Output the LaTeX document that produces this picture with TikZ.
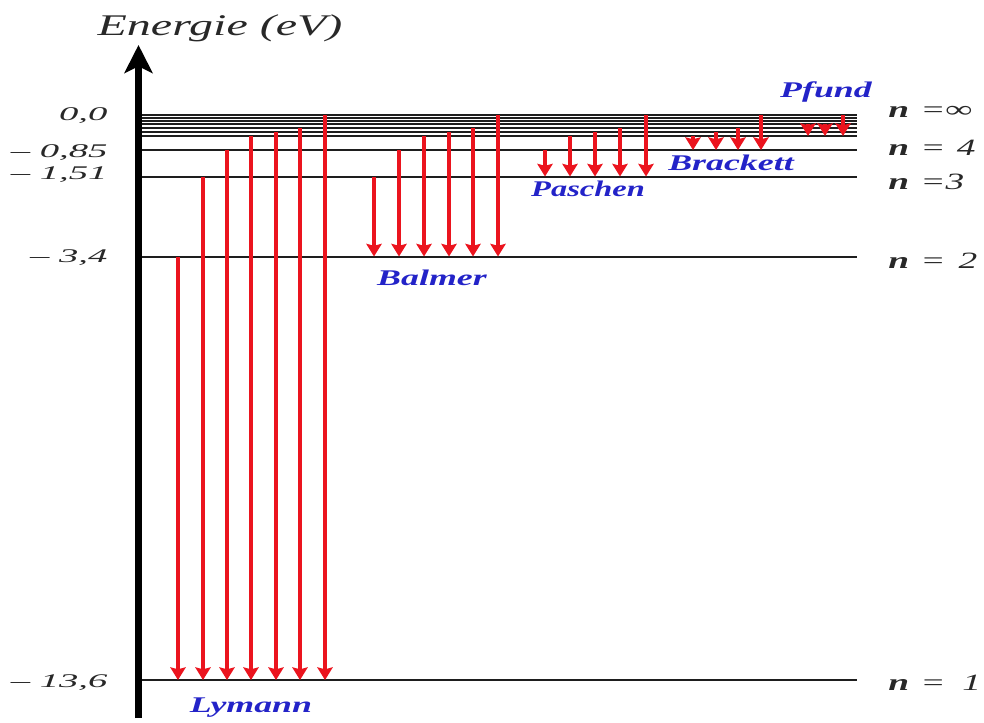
\documentclass[tikz,border=0pt]{standalone}
\usepackage{fontspec}
\setmainfont{Liberation Serif}
\usetikzlibrary{arrows.meta}
\definecolor{lred}{RGB}{235,20,30}
\definecolor{lblue}{RGB}{35,35,200}
\definecolor{lgray}{RGB}{30,30,30}
\definecolor{tgray}{RGB}{40,40,40}
\tikzset{
  level/.style={line width=1.5pt, draw=lgray},
  trans/.style={draw=lred, line width=2.5pt, -{Stealth[length=9.5pt,width=11.5pt,inset=1.5pt]}},
  axisline/.style={line width=5pt, draw=black, -{Stealth[length=21pt,width=21pt,inset=5pt]}},
  series/.style={font=\fontsize{16.8}{18}\selectfont\bfseries\itshape, text=lblue, xscale=#1, inner sep=0pt, anchor=base},
  series/.default=1.6,
  numlab/.style={font=\fontsize{14.5}{16}\selectfont\itshape, text=tgray, anchor=base east, xscale=2.0, inner sep=0pt},
  nlab/.style={font=\fontsize{17.5}{18}\selectfont\itshape, text=tgray, anchor=base west, xscale=1.6, inner sep=0pt},
  title/.style={font=\fontsize{22.5}{24}\selectfont\itshape, text=tgray, anchor=base, xscale=1.6, inner sep=0pt}
}
\begin{document}
\begin{tikzpicture}[x=0.75pt,y=-0.75pt]
\useasboundingbox (0,0) rectangle (984,722);
% axis
\coordinate (axbot) at (138.5,718);
\coordinate (axtop) at (138.5,45);
\draw[axisline] (axbot) -- (axtop);
\node[title] (ttl) at (220,35) {Energie (eV)};
% levels
\foreach \nm/\y in {inf/115, la/118, lb/121, lc/124, ld/127.5, le/131.5, lf/136, lg/150, lh/176.5, li/256.5, lj/680} {
  \coordinate (\nm W) at (142,\y);
  \coordinate (\nm E) at (857,\y);
  \draw[level] (\nm W) -- (\nm E);
}
% transitions
\foreach \i/\x/\ya/\yb in {
  1/178/256.5/680, 2/203/176.5/680, 3/227/150/680, 4/251/136/680, 5/276/131.5/680, 6/300/127.5/680, 7/325/115/680,
  8/374/176.5/256.5, 9/399/150/256.5, 10/424/136/256.5, 11/449/131.5/256.5, 12/473/127.5/256.5, 13/498/115/256.5,
  14/545/150/176.5, 15/570/136/176.5, 16/595/131.5/176.5, 17/620/127.5/176.5, 18/646/115/176.5,
  19/693/136/150, 20/716/131.5/150, 21/738/127.5/150, 22/761/115/150,
  23/808/124/136, 24/825/124/136, 25/843/115/136} {
  \coordinate (s\i) at (\x,\ya);
  \coordinate (e\i) at (\x,\yb);
  \draw[trans] (s\i) -- (e\i);
}
% energy labels
\node[numlab] (v0) at (108,120) {0,0};
\node[numlab] (v4) at (108,157) {– 0,85};
\node[numlab] (v3) at (108,179) {– 1,51};
\node[numlab] (v2) at (108,262) {– 3,4};
\node[numlab] (v1) at (108,687) {– 13,6};
% quantum number labels
\node[nlab] (ninf) at (888,117) {{\bfseries n}\hspace{0.3em}=∞};
\node[nlab] (n4) at (888,155) {{\bfseries n}\hspace{0.3em}=\hspace{0.3em}4};
\node[nlab] (n3) at (888,189) {{\bfseries n}\hspace{0.3em}=3};
\node[nlab] (n2) at (888,268) {{\bfseries n}\hspace{0.3em}=\hspace{0.35em}2};
\node[nlab] (n1) at (888,690) {{\bfseries n}\hspace{0.3em}=\hspace{0.45em}1};
% series labels
\node[series] (lyman) at (251,712) {Lymann};
\node[series] (balmer) at (432,285) {Balmer};
\node[series=1.45] (paschen) at (588,196) {Paschen};
\node[series] (brackett) at (731,170) {Brackett};
\node[series] (pfund) at (826,97) {Pfund};
\end{tikzpicture}
\end{document}
